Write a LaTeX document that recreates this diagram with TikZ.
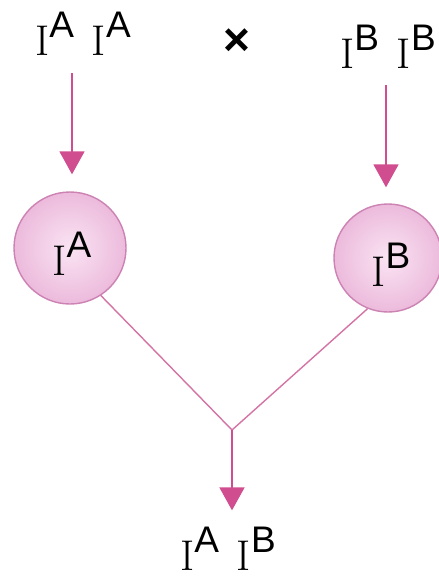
\documentclass[tikz,border=0pt]{standalone}
\usepackage{fontspec}
\setsansfont{Liberation Sans}
\usetikzlibrary{arrows.meta}
\definecolor{arr}{RGB}{208,78,144}
\definecolor{vline}{RGB}{212,116,164}
\definecolor{cin}{RGB}{250,228,243}
\definecolor{cout}{RGB}{236,186,220}
\definecolor{cedge}{RGB}{204,130,178}
\newcommand\gene[1]{{\fontsize{43}{43}\selectfont I}\raisebox{18pt}{\fontsize{37}{37}\selectfont\sffamily #1}}
\newcommand\genegap{\hspace{18pt}}
\tikzset{
  lbl/.style={inner sep=0pt, anchor=base west, text=black},
  gamete/.style={circle, minimum size=#1, inner sep=0pt, draw=cedge, line width=1.4pt, inner color=cin, outer color=cout},
  arrowline/.style={draw=arr, line width=1.8pt, -{Triangle[width=25pt,length=23pt]}},
  joinline/.style={draw=vline, line width=1.4pt},
}
\begin{document}
\begin{tikzpicture}[x=1pt,y=-1pt]
\useasboundingbox (0,0) rectangle (439,581);
% parents
\node[lbl] (pA) at (35,55) {\gene{A}\genegap\gene{A}};
\node[inner sep=0pt, font=\fontsize{46}{46}\selectfont\bfseries\sffamily] (cross) at (237,42) {×};
\node[lbl] (pB) at (340,68) {\gene{B}\genegap\gene{B}};
% gametes
\node[gamete=112pt] (cA) at (70,248) {};
\node[gamete=108pt] (cB) at (388,258) {};
\node[inner sep=0pt] (tA) at (72,254) {\gene{A}};
\node[inner sep=0pt] (tB) at (391,265) {\gene{B}};
% offspring
\node[lbl] (off) at (180,570) {\gene{A}\genegap\gene{B}};
% arrows
\coordinate (a1) at (72,73);
\coordinate (a2) at (386,85);
\coordinate (j) at (232,430);
\draw[arrowline, shorten >=17pt] (a1) -- (a1 |- cA.north);
\draw[arrowline, shorten >=16pt] (a2) -- (a2 |- cB.north);
\draw[joinline] (cA.-57) -- (j);
\draw[joinline] (cB.-112) -- (j);
\draw[arrowline, shorten >=16pt] (j) -- (j |- off.north);
\end{tikzpicture}
\end{document}
